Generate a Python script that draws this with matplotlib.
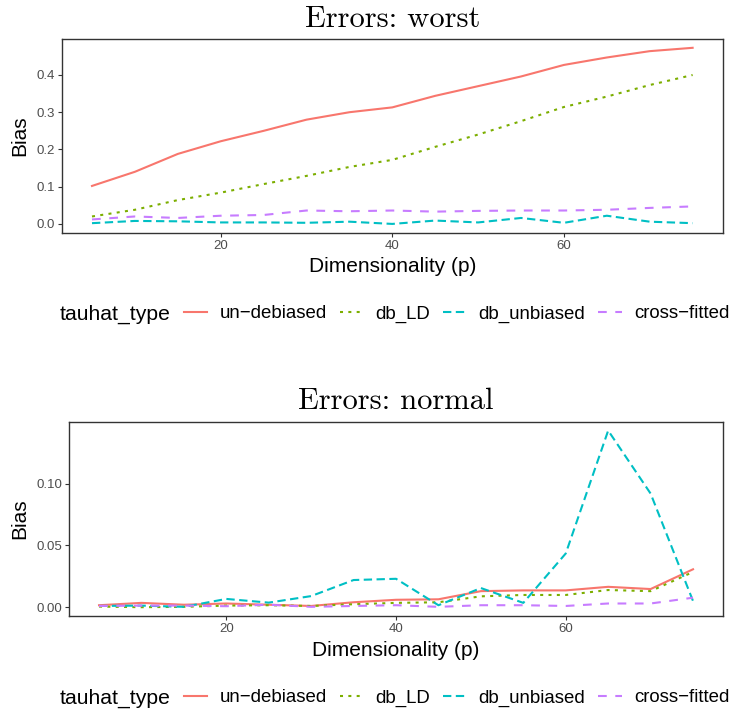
import numpy as np
import matplotlib.pyplot as plt
from matplotlib.lines import Line2D

OUTPUT_FIG = "out.png"

# data
p_values = [5, 10, 15, 20, 25, 30, 35, 40, 45, 50, 55, 60, 65, 70, 75]

worst_un_debiased = [0.102, 0.140, 0.188, 0.222, 0.250, 0.280, 0.300, 0.313, 0.344, 0.370,
                     0.396, 0.427, 0.447, 0.464, 0.473]
worst_db_ld = [0.020, 0.038, 0.064, 0.084, 0.107, 0.129, 0.153, 0.172, 0.207, 0.240,
               0.276, 0.314, 0.342, 0.373, 0.400]
worst_db_unbiased = [0.002, 0.008, 0.007, 0.004, 0.004, 0.003, 0.006, 0.000, 0.009, 0.004,
                     0.016, 0.003, 0.022, 0.006, 0.002]
worst_cross_fitted = [0.012, 0.020, 0.016, 0.022, 0.024, 0.036, 0.034, 0.036, 0.033, 0.035,
                      0.036, 0.036, 0.038, 0.043, 0.047]

normal_un_debiased = [0.0016, 0.0035, 0.0020, 0.0030, 0.0020, 0.0010, 0.0040, 0.0060, 0.0064,
                      0.0130, 0.0136, 0.0136, 0.0165, 0.0147, 0.0307]
normal_db_ld = [0.0005, 0.0000, 0.0003, 0.0013, 0.0016, 0.0010, 0.0024, 0.0035, 0.0040,
                0.0088, 0.0099, 0.0099, 0.0139, 0.0130, 0.0285]
normal_db_unbiased = [0.0010, 0.0013, 0.0003, 0.0067, 0.0037, 0.0090, 0.0220, 0.0230, 0.0016,
                      0.0155, 0.0035, 0.0435, 0.1430, 0.0920, 0.0050]
normal_cross_fitted = [0.0010, 0.0013, 0.0013, 0.0008, 0.0020, 0.0003, 0.0010, 0.0016, 0.0003,
                       0.0016, 0.0016, 0.0010, 0.0030, 0.0030, 0.0077]

LABELS = ["un\u2212debiased", "db_LD", "db_unbiased", "cross\u2212fitted"]
COLORS = ["#F8766D", "#7CAE00", "#00BFC4", "#C77CFF"]
LW = 1.5
STYLES = ["-", (0, (1.45, 2.55)), (0, (4.0, 2.15)), (0, (4.2, 4.1))]

FRAME = "#333333"
TICK_TXT = "#4D4D4D"

plt.rcParams["font.family"] = ["Liberation Sans", "DejaVu Sans"]

fig = plt.figure(figsize=(7.29, 7.13), dpi=100, facecolor="white")

ax1 = fig.add_axes([0.0850, 0.6736, 0.9063, 0.2717])
ax2 = fig.add_axes([0.0951, 0.1360, 0.8963, 0.2725])


def draw_panel(ax, series, title, yticks, ylabels):
    for vals, col, ls in zip(series, COLORS, STYLES):
        ax.plot(p_values, vals, color=col, lw=LW, linestyle=ls)
    ax.set_xlim(1.5, 78.5)
    ymax = max(max(s) for s in series)
    ax.set_ylim(-0.05 * ymax, 1.05 * ymax)
    ax.set_xticks([20, 40, 60])
    ax.set_yticks(yticks)
    ax.set_yticklabels(ylabels)
    ax.tick_params(axis="both", length=2.9, width=0.8, color=FRAME,
                   labelsize=9.5, labelcolor=TICK_TXT, pad=2.2)
    for spine in ax.spines.values():
        spine.set_edgecolor(FRAME)
        spine.set_linewidth(1.0)
    ax.set_xlabel("Dimensionality (p)", fontsize=15, labelpad=4)
    ax.set_ylabel("Bias", fontsize=15, labelpad=5)
    ax.set_title(title, fontsize=22, family="cmr10", pad=9)


draw_panel(ax1, [worst_un_debiased, worst_db_ld, worst_db_unbiased, worst_cross_fitted],
           "Errors: worst", [0.0, 0.1, 0.2, 0.3, 0.4], ["0.0", "0.1", "0.2", "0.3", "0.4"])
draw_panel(ax2, [normal_un_debiased, normal_db_ld, normal_db_unbiased, normal_cross_fitted],
           "Errors: normal", [0.0, 0.05, 0.10], ["0.00", "0.05", "0.10"])

# horizontal legends under each panel, ggplot style (title on the left)
handles = [Line2D([0], [0], color=c, lw=LW, linestyle=s) for c, s in zip(COLORS, STYLES)]
for y in [1 - 314 / 713, 1 - 698 / 713]:
    fig.text(60 / 729, y, "tauhat_type", fontsize=15.2, ha="left", va="center")
    fig.legend(handles=handles, labels=LABELS, loc="center left",
               bbox_to_anchor=(184 / 729, y), ncol=4, frameon=False, fontsize=13.4,
               handlelength=1.25, handletextpad=0.66, columnspacing=0.7,
               borderpad=0, borderaxespad=0)

plt.savefig(OUTPUT_FIG, dpi=100, facecolor=fig.get_facecolor())
plt.close()
